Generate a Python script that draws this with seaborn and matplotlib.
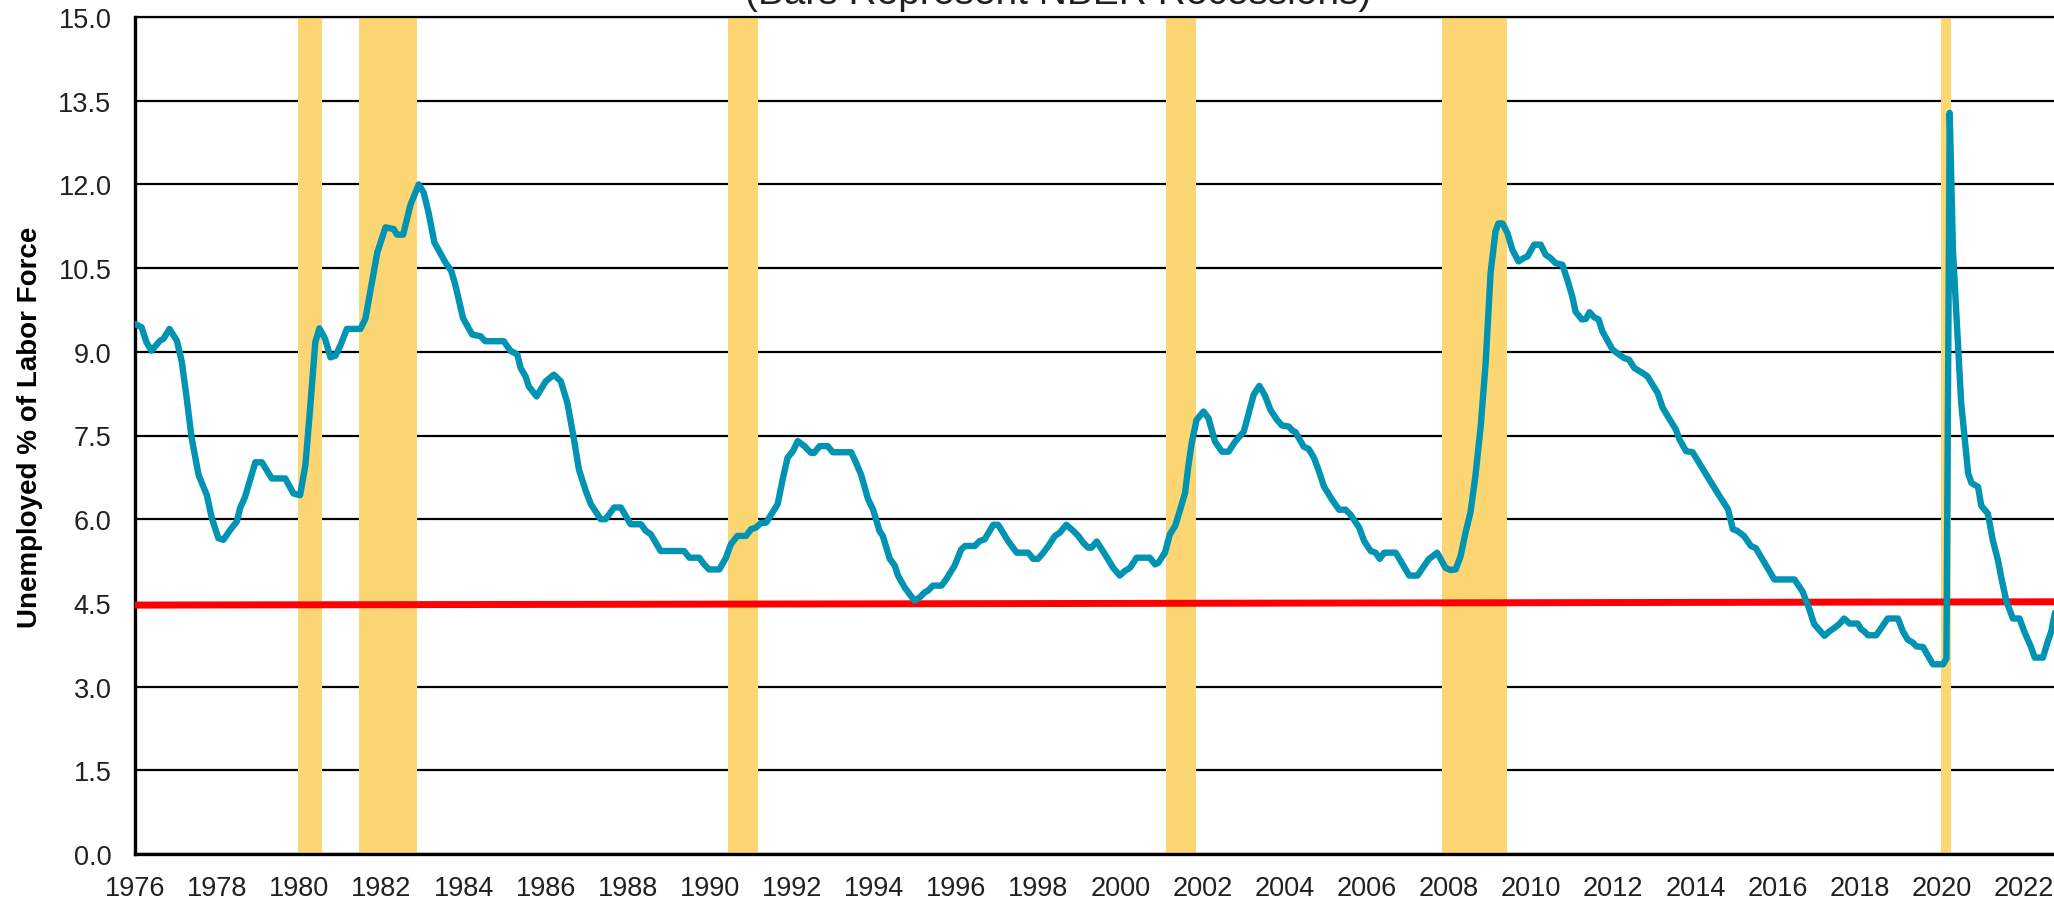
import numpy as np
import pandas as pd
import matplotlib
matplotlib.use('Agg')
import matplotlib.pyplot as plt
from matplotlib.ticker import FormatStrFormatter
import seaborn as sns

# Tasa de desempleo (año decimal, % de la fuerza laboral)
anios = [
    1976.0, 1976.16, 1976.28, 1976.4, 1976.61, 1976.69, 1976.84, 1977.02, 1977.14, 1977.26,
    1977.38, 1977.55, 1977.75, 1977.87, 1978.03, 1978.15, 1978.32, 1978.48, 1978.56, 1978.68,
    1978.93, 1979.09, 1979.33, 1979.66, 1979.86, 1980.02, 1980.15, 1980.27, 1980.39, 1980.49,
    1980.63, 1980.76, 1980.88, 1981.0, 1981.16, 1981.49, 1981.61, 1981.9, 1982.1, 1982.3,
    1982.38, 1982.53, 1982.71, 1982.91, 1983.03, 1983.15, 1983.29, 1983.56, 1983.7, 1983.8,
    1983.88, 1983.99, 1984.21, 1984.41, 1984.53, 1984.98, 1985.14, 1985.31, 1985.39, 1985.51,
    1985.59, 1985.78, 1986.0, 1986.2, 1986.37, 1986.53, 1986.69, 1986.81, 1986.98, 1987.1,
    1987.34, 1987.46, 1987.67, 1987.83, 1988.07, 1988.32, 1988.44, 1988.56, 1988.8, 1989.37,
    1989.5, 1989.74, 1989.86, 1989.98, 1990.23, 1990.39, 1990.51, 1990.67, 1990.88, 1991.0,
    1991.12, 1991.24, 1991.37, 1991.49, 1991.65, 1991.77, 1991.89, 1992.02, 1992.14, 1992.3,
    1992.46, 1992.54, 1992.67, 1992.87, 1992.99, 1993.44, 1993.56, 1993.68, 1993.85, 1993.97,
    1994.13, 1994.21, 1994.38, 1994.5, 1994.58, 1994.74, 1994.98, 1995.11, 1995.23, 1995.31,
    1995.43, 1995.64, 1995.76, 1995.96, 1996.12, 1996.21, 1996.45, 1996.57, 1996.69, 1996.9,
    1997.02, 1997.26, 1997.47, 1997.75, 1997.87, 1997.99, 1998.12, 1998.24, 1998.4, 1998.52,
    1998.68, 1998.85, 1998.97, 1999.09, 1999.21, 1999.29, 1999.42, 1999.62, 1999.82, 1999.98,
    2000.1, 2000.23, 2000.39, 2000.71, 2000.84, 2000.92, 2001.08, 2001.2, 2001.33, 2001.45,
    2001.57, 2001.65, 2001.73, 2001.85, 2002.02, 2002.14, 2002.3, 2002.47, 2002.63, 2002.79,
    2003.0, 2003.12, 2003.24, 2003.38, 2003.52, 2003.65, 2003.81, 2003.93, 2004.1, 2004.18,
    2004.26, 2004.46, 2004.58, 2004.71, 2004.83, 2004.95, 2005.15, 2005.32, 2005.48, 2005.6,
    2005.81, 2005.93, 2006.09, 2006.21, 2006.31, 2006.42, 2006.7, 2006.87, 2007.03, 2007.23,
    2007.36, 2007.5, 2007.71, 2007.91, 2008.03, 2008.16, 2008.28, 2008.4, 2008.52, 2008.64,
    2008.77, 2008.89, 2009.01, 2009.13, 2009.2, 2009.3, 2009.42, 2009.54, 2009.69, 2009.82,
    2009.91, 2010.07, 2010.23, 2010.35, 2010.47, 2010.59, 2010.76, 2010.88, 2011.0, 2011.08,
    2011.23, 2011.33, 2011.42, 2011.53, 2011.64, 2011.73, 2011.98, 2012.14, 2012.26, 2012.38,
    2012.51, 2012.71, 2012.83, 2013.08, 2013.2, 2013.32, 2013.52, 2013.61, 2013.77, 2013.93,
    2014.26, 2014.58, 2014.79, 2014.91, 2015.02, 2015.18, 2015.35, 2015.47, 2015.92, 2016.41,
    2016.61, 2016.77, 2016.89, 2017.14, 2017.26, 2017.38, 2017.5, 2017.62, 2017.75, 2017.95,
    2018.03, 2018.11, 2018.2, 2018.4, 2018.68, 2018.93, 2019.05, 2019.17, 2019.29, 2019.38,
    2019.54, 2019.78, 2020.03, 2020.11, 2020.19, 2020.27, 2020.47, 2020.64, 2020.72, 2020.88,
    2020.96, 2021.12, 2021.24, 2021.36, 2021.45, 2021.57, 2021.73, 2021.89, 2022.01, 2022.17,
    2022.26, 2022.46, 2022.58, 2022.66, 2022.8, 2022.9,
]
tasa = [
    9.5, 9.44, 9.17, 9.02, 9.2, 9.23, 9.41, 9.2, 8.82, 8.16,
    7.45, 6.79, 6.43, 6.02, 5.66, 5.63, 5.81, 5.96, 6.2, 6.4,
    7.02, 7.02, 6.73, 6.73, 6.46, 6.43, 6.97, 8.04, 9.17, 9.42,
    9.23, 8.9, 8.93, 9.11, 9.41, 9.41, 9.59, 10.78, 11.23, 11.2,
    11.1, 11.1, 11.64, 12.0, 11.85, 11.49, 10.96, 10.6, 10.45, 10.2,
    9.95, 9.6, 9.31, 9.28, 9.19, 9.19, 9.02, 8.95, 8.71, 8.56,
    8.38, 8.2, 8.47, 8.59, 8.47, 8.08, 7.43, 6.89, 6.5, 6.27,
    6.0, 6.0, 6.21, 6.21, 5.91, 5.91, 5.79, 5.73, 5.43, 5.43,
    5.31, 5.31, 5.19, 5.1, 5.1, 5.31, 5.55, 5.7, 5.7, 5.82,
    5.85, 5.93, 5.94, 6.08, 6.27, 6.71, 7.1, 7.22, 7.4, 7.31,
    7.19, 7.19, 7.31, 7.31, 7.2, 7.2, 7.01, 6.8, 6.36, 6.18,
    5.79, 5.7, 5.29, 5.17, 4.99, 4.78, 4.54, 4.6, 4.69, 4.72,
    4.81, 4.81, 4.93, 5.17, 5.46, 5.52, 5.52, 5.61, 5.64, 5.9,
    5.9, 5.61, 5.4, 5.4, 5.29, 5.29, 5.4, 5.52, 5.7, 5.76,
    5.9, 5.79, 5.7, 5.58, 5.49, 5.49, 5.6, 5.37, 5.13, 4.99,
    5.07, 5.13, 5.31, 5.31, 5.19, 5.22, 5.4, 5.73, 5.88, 6.17,
    6.47, 6.95, 7.36, 7.78, 7.93, 7.81, 7.39, 7.21, 7.21, 7.39,
    7.57, 7.9, 8.23, 8.39, 8.21, 7.96, 7.78, 7.68, 7.66, 7.59,
    7.56, 7.3, 7.26, 7.1, 6.86, 6.59, 6.35, 6.17, 6.17, 6.08,
    5.85, 5.61, 5.43, 5.4, 5.29, 5.4, 5.4, 5.19, 4.99, 4.99,
    5.13, 5.28, 5.4, 5.13, 5.09, 5.1, 5.34, 5.76, 6.12, 6.77,
    7.67, 8.8, 10.41, 11.16, 11.3, 11.3, 11.13, 10.83, 10.62, 10.68,
    10.71, 10.92, 10.92, 10.74, 10.68, 10.59, 10.56, 10.29, 9.99, 9.72,
    9.58, 9.59, 9.71, 9.62, 9.58, 9.37, 9.04, 8.95, 8.89, 8.86,
    8.71, 8.62, 8.56, 8.26, 8.0, 7.85, 7.61, 7.43, 7.22, 7.2,
    6.8, 6.42, 6.18, 5.82, 5.79, 5.7, 5.52, 5.48, 4.92, 4.92,
    4.7, 4.39, 4.12, 3.91, 3.99, 4.05, 4.12, 4.22, 4.13, 4.13,
    4.03, 3.99, 3.92, 3.92, 4.22, 4.22, 3.99, 3.84, 3.79, 3.72,
    3.71, 3.4, 3.4, 3.5, 13.28, 10.8, 8.08, 6.82, 6.65, 6.58,
    6.24, 6.1, 5.62, 5.28, 4.94, 4.53, 4.22, 4.22, 3.98, 3.71,
    3.52, 3.52, 3.81, 3.98, 4.49, 4.8,
]

# Línea de referencia roja (extremos)
ref_anios = [1976.0, 2022.73]
ref_tasa = [4.46, 4.52]

# Recesiones NBER (inicio, fin)
recesion_inicio = [1979.96, 1981.46, 1990.45, 2001.1, 2007.83, 2019.98]
recesion_fin = [1980.55, 1982.87, 1991.18, 2001.83, 2009.42, 2020.23]

anios_ticks = list(range(1976, 2023, 2))
valores_yticks = [0.0, 1.5, 3.0, 4.5, 6.0, 7.5, 9.0, 10.5, 12.0, 13.5, 15.0]

COLOR_TEXTO = '#231F20'


def graficar_desempleo():
    """Genera el gráfico de desempleo con barras de recesión"""
    sns.set_theme(style='white')
    plt.rcParams['font.family'] = ['Liberation Sans', 'DejaVu Sans']

    fig = plt.figure(figsize=(20.54, 9.03), dpi=100)
    ax = fig.add_axes([135 / 2054, 48 / 903, 1 - 135 / 2054, 837 / 903])

    df = pd.DataFrame({'anio': anios, 'tasa': tasa})
    df_ref = pd.DataFrame({'anio': ref_anios, 'tasa': ref_tasa})

    # Barras de recesión
    for ini, fin in zip(recesion_inicio, recesion_fin):
        ax.axvspan(ini, fin, color='#FCD672', lw=0, zorder=1)

    sns.lineplot(data=df_ref, x='anio', y='tasa', ax=ax, color='#FF0000',
                 lw=5, zorder=3)
    sns.lineplot(data=df, x='anio', y='tasa', ax=ax, color='#0093B2',
                 lw=4.6, zorder=4, sort=False)

    ax.set_xlim(1976, 2022.73)
    ax.set_ylim(0, 15)
    ax.set_xticks(anios_ticks)
    ax.set_yticks(valores_yticks)
    ax.yaxis.set_major_formatter(FormatStrFormatter('%.1f'))
    ax.tick_params(axis='both', length=0, labelsize=19.5, labelcolor=COLOR_TEXTO)
    ax.tick_params(axis='x', pad=15)
    ax.tick_params(axis='y', pad=17)

    ax.set_axisbelow(True)
    ax.yaxis.grid(True, color='black', lw=1.6)
    ax.xaxis.grid(False)
    for lado in ['left', 'bottom', 'top']:
        ax.spines[lado].set_visible(True)
        ax.spines[lado].set_color('black')
    ax.spines['left'].set_linewidth(2.4)
    ax.spines['bottom'].set_linewidth(2.4)
    ax.spines['top'].set_linewidth(1.6)
    ax.spines['right'].set_visible(False)

    ax.set_xlabel('')
    ax.set_ylabel('Unemployed % of Labor Force', fontsize=20, fontweight='bold',
                  color='black', va='center')
    ax.yaxis.set_label_coords(-0.0545, 0.511)

    # Subtítulo recortado en el borde superior
    fig.text(0.515, 1 - 4 / 903, '(Bars Represent NBER Recessions)', fontsize=28,
             color=COLOR_TEXTO, ha='center', va='baseline')

    fig.savefig('out.png', dpi=100)
    plt.close(fig)


if __name__ == '__main__':
    graficar_desempleo()
